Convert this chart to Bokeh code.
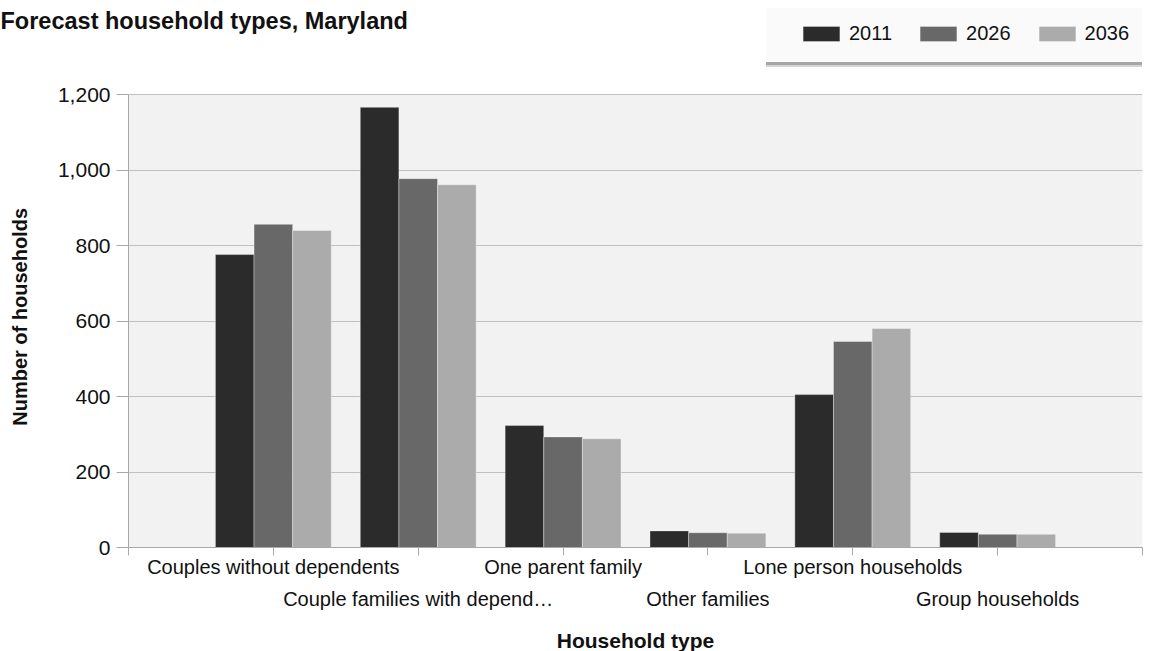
from bokeh.plotting import figure
from bokeh.models import (ColumnDataSource, Range1d, FixedTicker, NumeralTickFormatter,
                          Legend, LegendItem, Title, BoxAnnotation)
from bokeh.transform import dodge
from bokeh.embed import file_html
from bokeh.resources import INLINE

# ---- data ----
categories = ["Couples without dependents", "Couple families with depend\u2026",
              "One parent family", "Other families", "Lone person households",
              "Group households"]
years = ["2011", "2026", "2036"]
v2011 = [776, 1166, 323, 44, 405, 40]
v2026 = [856, 977, 293, 39, 546, 35]
v2036 = [840, 961, 288, 38, 580, 35]
y_ticks = [0, 200, 400, 600, 800, 1000, 1200]
title_text = "Forecast household types, Maryland"
x_title = "Household type"
y_title = "Number of households"

colors = ["#2b2b2b", "#686868", "#ababab"]
FONT = "Liberation Sans"

pos = list(range(1, len(categories) + 1))
src = ColumnDataSource(dict(x=pos, v2011=v2011, v2026=v2026, v2036=v2036))

# ---- layout (canvas pixels) ----
H = 650
FL, FR = 128, 1142          # frame left / right
FT, FB = 8, 547             # frame top / bottom (frame extends up to hold legend)
PLOT_TOP = 94               # pixel row of the top y tick
W = FR + 16

n_slots = len(categories) + 1
y_max = y_ticks[-1]
y_end = y_max * (FB - FT) / (FB - PLOT_TOP)

p = figure(frame_width=FR - FL, frame_height=FB - FT,
           min_border_left=FL, min_border_right=W - FR,
           min_border_top=FT, min_border_bottom=H - FB,
           x_range=Range1d(0, n_slots), y_range=Range1d(0, y_end),
           output_backend="svg", toolbar_location=None)
p.background_fill_color = "white"
p.border_fill_color = "white"
p.outline_line_color = None

# grey plot area (0..1200), under the grid
p.add_layout(BoxAnnotation(left=0, right=n_slots, bottom=0, top=y_max,
                           fill_color="#f2f2f2", fill_alpha=1, line_color=None,
                           level="image"))

bw = 0.8 / 3
renderers = []
for i, (col, c) in enumerate(zip(["v2011", "v2026", "v2036"], colors)):
    r = p.vbar(x=dodge("x", (i - 1) * bw, range=p.x_range), top=col, width=bw,
               source=src, fill_color=c, line_color="white", line_alpha=0.35,
               line_width=1)
    renderers.append(r)

# ---- axes ----
xa = p.xaxis[0]
xa.ticker = FixedTicker(ticks=list(range(0, n_slots + 1)))
overrides = {0: "", n_slots: ""}
for i, c in enumerate(categories):
    overrides[i + 1] = c if i % 2 == 0 else "\n" + c
xa.major_label_overrides = overrides
xa.major_tick_out = 8
xa.major_tick_in = 0
xa.minor_tick_line_color = None
xa.axis_line_color = "#a8a8a8"
xa.major_tick_line_color = "#a8a8a8"
xa.major_label_text_font = FONT
xa.major_label_text_font_size = "20px"
xa.major_label_text_color = "#111111"
xa.major_label_text_line_height = 1.47
xa.major_label_standoff = 0
xa.axis_label = x_title
xa.axis_label_text_font = FONT
xa.axis_label_text_font_size = "21px"
xa.axis_label_text_font_style = "bold"
xa.axis_label_text_color = "#111111"
xa.axis_label_standoff = 16

ya = p.yaxis[0]
ya.ticker = FixedTicker(ticks=y_ticks)
ya.formatter = NumeralTickFormatter(format="0,0")
ya.bounds = (0, y_max)
ya.major_tick_out = 12
ya.major_tick_in = 0
ya.minor_tick_line_color = None
ya.axis_line_color = "#a8a8a8"
ya.major_tick_line_color = "#a8a8a8"
ya.major_label_text_font = FONT
ya.major_label_text_font_size = "21px"
ya.major_label_text_color = "#111111"
ya.major_label_standoff = 6
# trailing no-break spaces keep the label centred on the 0..1200 plot area
ya.axis_label = y_title + "\u00a0" * 14
ya.axis_label_text_font = FONT
ya.axis_label_text_font_size = "20px"
ya.axis_label_text_font_style = "bold"
ya.axis_label_text_color = "#111111"
ya.axis_label_standoff = 24

p.xgrid.grid_line_color = None
p.ygrid.ticker = FixedTicker(ticks=y_ticks)
p.ygrid.grid_line_color = "#c0c0c0"

# ---- title (top-left of canvas); leading blank line pushes it down ----
ttl = Title(text="\n" + title_text, align="left", offset=-FL, vertical_align="bottom",
            text_font=FONT, text_font_size="23.5px", text_font_style="bold",
            text_color="#111111")
try:
    ttl.standoff = -50
except Exception:
    ttl.standoff = 0
p.title = ttl

# ---- legend: shadow, background box, items ----
dummy = p.scatter(x=[], y=[], fill_alpha=0, line_alpha=0)

def box_legend(vy, color, alpha):
    return Legend(items=[LegendItem(label=" ", renderers=[dummy])],
                  location=(766 - FL, vy), padding=0, margin=0, spacing=0,
                  glyph_width=420, glyph_height=55, label_standoff=0,
                  label_width=0, label_height=0, label_text_font_size="1px",
                  background_fill_color=color, background_fill_alpha=alpha,
                  border_line_color=None)

p.add_layout(box_legend(FB - 67, "#d4d4d4", 1.0))
p.add_layout(box_legend(FB - 65, "#a6a6a6", 1.0))
p.add_layout(box_legend(FB - 62, "#fafafa", 1.0))

leg = Legend(items=[LegendItem(label=y, renderers=[r]) for y, r in zip(years, renderers)],
             orientation="horizontal", location=(670, FB - 45),
             padding=10, margin=0, spacing=23, glyph_width=46, glyph_height=19,
             label_standoff=5, label_text_font=FONT, label_text_font_size="20px",
             label_text_color="#111111",
             background_fill_alpha=0, border_line_color=None)
p.add_layout(leg)

open("out.html", "w").write(file_html(p, INLINE))
